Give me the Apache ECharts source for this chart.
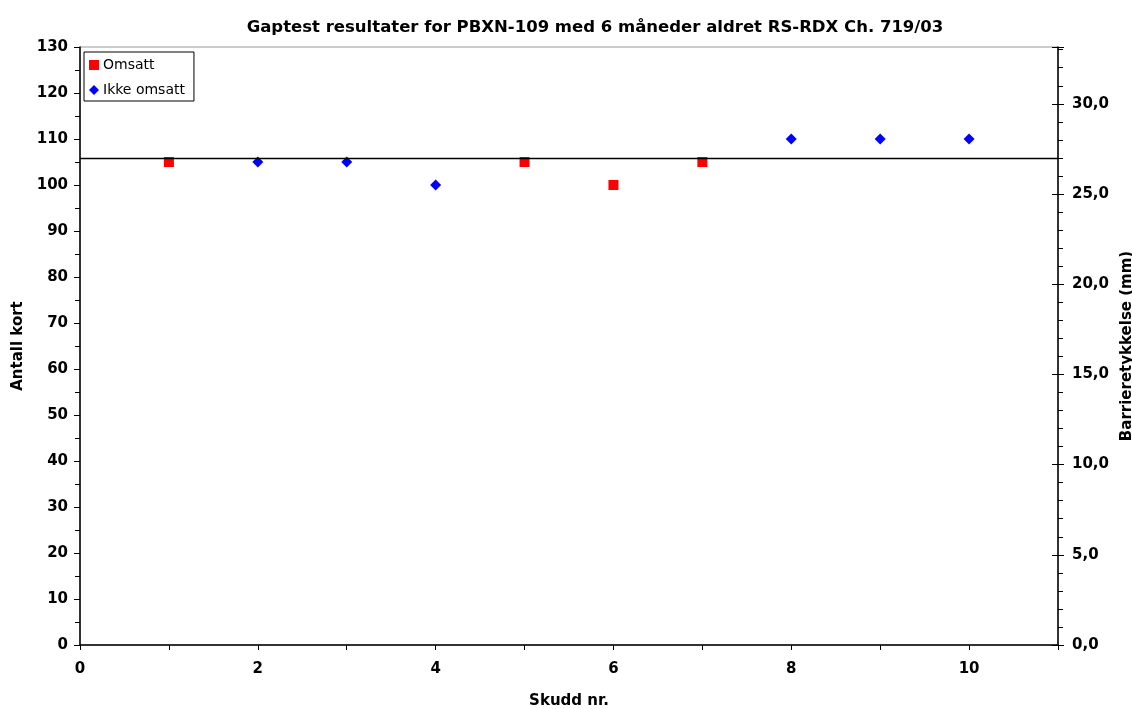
<!DOCTYPE html>
<html>
<head>
<meta charset="utf-8">
<script src="https://cdn.jsdelivr.net/npm/echarts@6/dist/echarts.min.js"></script>
<style>
    html, body { margin: 0; padding: 0; background: #fff; }
    #chart { width: 1132px; height: 709px; }
</style>
</head>
<body>
<div id="chart"></div>
<script>
// skudd nr. og antall kort
var omsattX = [1, 5, 6, 7];
var omsattY = [105, 105, 100, 105];
var ikkeOmsattX = [2, 3, 4, 8, 9, 10];
var ikkeOmsattY = [105, 105, 100, 110, 110, 110];
var grenseMm = 27.0; // horisontal linje, høyre akse
var mmMax = 33.15;   // høyre akse topp (130 kort)

function pairs(xs, ys) {
    var out = [];
    for (var i = 0; i < xs.length; i++) {
        out.push([xs[i], ys[i]]);
    }
    return out;
}

var font = 'DejaVu Sans, Arial, sans-serif';
var labelStyle = {fontFamily: font, fontSize: 15, fontWeight: 'bold', color: '#000'};
var chart = echarts.init(document.getElementById('chart'));

var option = {
    animation: false,
    backgroundColor: '#fff',
    title: {
        text: 'Gaptest resultater for PBXN-109 med 6 måneder aldret RS-RDX Ch. 719/03',
        left: 590,
        textAlign: 'center',
        top: 14,
        textStyle: {fontFamily: font, fontSize: 16.5, fontWeight: 'bold', color: '#000'}
    },
    legend: {
        orient: 'vertical',
        left: 84,
        top: 52,
        itemWidth: 10,
        itemHeight: 10,
        itemGap: 11,
        padding: [6, 9, 4, 5],
        borderColor: '#000',
        borderWidth: 1,
        borderRadius: 0,
        backgroundColor: '#fff',
        textStyle: {fontFamily: font, fontSize: 14, color: '#000', padding: [0, 0, 0, -1]},
        data: ['Omsatt', 'Ikke omsatt']
    },
    grid: {
        left: 80, right: 74, top: 47, bottom: 64,
        outerBoundsMode: 'none',
        containLabel: false,
        show: true,
        borderColor: '#999',
        borderWidth: 1
    },
    xAxis: {
        type: 'value',
        min: 0, max: 11, interval: 1,
        name: 'Skudd nr.',
        nameLocation: 'middle',
        nameGap: 49,
        nameTextStyle: labelStyle,
        axisLine: {onZero: false, lineStyle: {color: '#000', width: 1.5}},
        axisTick: {length: 5, lineStyle: {color: '#000'}},
        splitLine: {show: false},
        axisLabel: {
            fontFamily: font, fontSize: 15, fontWeight: 'bold', color: '#000', margin: 17,
            formatter: function (v) { return (v % 2 === 0 && v <= 10) ? String(v) : ''; }
        }
    },
    yAxis: [
        {
            type: 'value',
            min: 0, max: 130, interval: 10,
            name: 'Antall kort',
            nameLocation: 'middle',
            nameGap: 53,
            nameRotate: 90,
            nameTextStyle: labelStyle,
            axisLine: {show: true, lineStyle: {color: '#000', width: 1.5}},
            axisTick: {show: true, length: 6, lineStyle: {color: '#000'}},
            minorTick: {show: true, splitNumber: 2, length: 5, lineStyle: {color: '#000'}},
            splitLine: {show: false},
            axisLabel: {fontFamily: font, fontSize: 15, fontWeight: 'bold', color: '#000', margin: 12}
        },
        {
            type: 'value',
            position: 'right',
            min: 0, max: mmMax, interval: 5,
            name: 'Barrieretykkelse (mm)',
            nameLocation: 'middle',
            nameGap: 50,
            nameRotate: 90,
            nameTextStyle: labelStyle,
            axisLine: {show: true, lineStyle: {color: '#000', width: 1.5}},
            axisTick: {show: true, length: 6, lineStyle: {color: '#000'}},
            minorTick: {show: true, splitNumber: 5, length: 5, lineStyle: {color: '#000'}},
            splitLine: {show: false},
            axisLabel: {
                fontFamily: font, fontSize: 15, fontWeight: 'bold', color: '#000', margin: 14,
                showMaxLabel: false,
                formatter: function (v) { return v.toFixed(1).replace('.', ','); }
            }
        },
        {
            // bare de innvendige hovedstrekene på høyre akse
            type: 'value',
            position: 'right',
            min: 0, max: mmMax, interval: 5,
            axisLine: {show: false},
            axisTick: {show: true, inside: true, length: 6, lineStyle: {color: '#000'}},
            axisLabel: {show: false},
            splitLine: {show: false}
        }
    ],
    series: [
        {
            name: 'Omsatt',
            type: 'scatter',
            yAxisIndex: 0,
            symbol: 'rect',
            symbolSize: 10,
            itemStyle: {color: '#ff0000', opacity: 1},
            data: pairs(omsattX, omsattY),
            z: 3
        },
        {
            name: 'Ikke omsatt',
            type: 'scatter',
            yAxisIndex: 0,
            symbol: 'diamond',
            symbolSize: 11,
            itemStyle: {color: '#0000ff', opacity: 1},
            data: pairs(ikkeOmsattX, ikkeOmsattY),
            z: 3
        },
        {
            name: 'grense',
            type: 'scatter',
            yAxisIndex: 1,
            data: [],
            markLine: {
                silent: true,
                symbol: ['none', 'none'],
                label: {show: false},
                lineStyle: {color: '#000', width: 1.3, type: 'solid'},
                data: [{yAxis: grenseMm}]
            }
        }
    ]
};

chart.setOption(option);
</script>
</body>
</html>
